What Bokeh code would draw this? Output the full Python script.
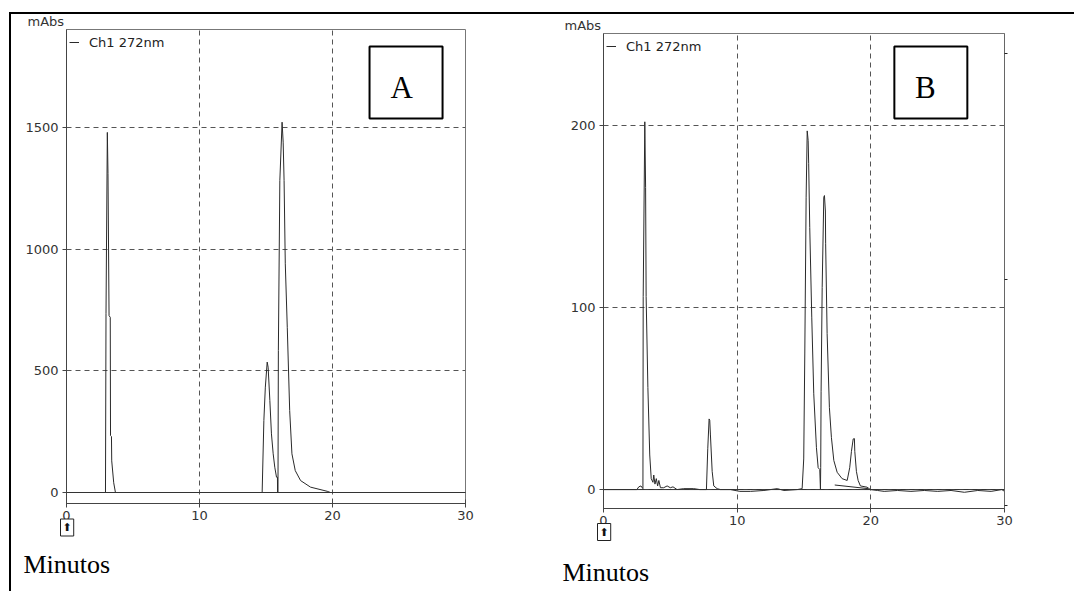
from bokeh.plotting import figure
from bokeh.models import Range1d, FixedTicker, LinearAxis, Span, Label, Legend, LegendItem, Title
from bokeh.layouts import row
from bokeh.embed import file_html
from bokeh.resources import INLINE

# ---------------- data ----------------
channel = "Ch1 272nm"
y_unit = "mAbs"
x_title = "Minutos"
panel_names = ["A", "B"]
origin_icon = "⬆"

x_ticks = [0, 10, 20, 30]
a_y_ticks = [0, 500, 1000, 1500]
b_y_ticks = [0, 100, 200]
b_right_ticks = [0, 50, 100]

# Chromatogram A (minutes, mAbs)
time_a = [0, 2.9, 2.93, 2.97, 3.07, 3.12, 3.2, 3.29, 3.31, 3.38, 3.4, 3.55, 3.68,
          14.71, 14.84, 14.95, 15.09, 15.16, 15.29, 15.41, 15.54, 15.66, 15.79, 15.86, 15.87,
          15.9, 15.93, 16.04, 16.21, 16.29, 16.36, 16.45, 16.6, 16.78, 16.95, 17.2, 17.6,
          18.35, 19.6, 19.85, 30]
signal_a = [0, 0, 0, 735, 1480, 1311, 727, 720, 234, 230, 130, 40, 0,
            0, 296, 433, 536, 515, 378, 241, 159, 104, 63, 63, 0,
            0, 584, 1282, 1522, 1440, 1282, 940, 679, 337, 159, 90, 49,
            22, 5, 0, 0]

# Chromatogram B (minutes, mAbs)
time_b = [0, 2.5, 2.64, 2.8, 2.95, 2.97, 3.09, 3.15, 3.19, 3.32, 3.46, 3.57, 3.7, 3.76,
          3.85, 3.95, 4.05, 4.14, 4.26, 4.5, 4.76, 5.0, 5.2, 5.5, 6.0, 6.75, 7.2, 7.7,
          7.8, 7.9, 7.95, 8.0, 8.13, 8.25, 8.5, 8.75, 9.5, 10.2, 11, 12, 13, 13.5, 14.5,
          14.86, 14.98, 15.06, 15.16, 15.24, 15.31, 15.35, 15.43, 15.58, 15.73, 15.93, 16.06,
          16.18, 16.23, 16.25, 16.28, 16.36, 16.48, 16.53, 16.6, 16.62, 16.73, 16.9, 17.05,
          17.23, 17.48, 17.85, 18.23, 18.42, 18.55, 18.68, 18.77, 18.8, 18.92, 19.05, 19.22,
          19.72, 19.97, 20.5, 21, 22, 23, 24, 25, 26, 27, 28, 29, 29.8, 30]
signal_b = [0, 0, 1.5, 2, 0.5, 106, 202, 166, 106, 56, 19, 6, 4, 8,
            3, 6, 2, 5, 1, 1, 2, 1, 1.5, 0, 0.5, 0.5, 0, 0,
            22.4, 38.8, 38, 30, 10, 2, 0.5, 0, 0, -1, -1, -0.5, 0.5, -0.5, 0,
            0.5, 16.8, 75, 160.6, 197, 191.8, 179, 144, 94.7, 52.6, 23, 12,
            11, 0, 12, 54, 111, 160.6, 161.5, 153, 135, 85.7, 45, 28.7,
            16, 9.5, 6, 5, 12, 21, 27.8, 28, 21, 10, 5, 2,
            1.3, 0, -0.5, -1, -0.5, -1, -0.5, -1, -0.5, -1.5, -0.5, -1, 0, -1]
# integration baseline segment under the last peak of B
b_base_time = [17.3, 19.8]
b_base_signal = [2.5, 0.5]

TICK_FONT = "DejaVu Sans"
GRAY = "#333333"


def make_panel(y_range, y_ticks, frame_w, frame_h, borders, series, extras, margin):
    left, top, right, bottom = borders
    p = figure(x_range=Range1d(0, 30), y_range=y_range, title=None,
               frame_width=frame_w, frame_height=frame_h,
               min_border_left=left, min_border_top=top,
               min_border_right=right, min_border_bottom=bottom,
               output_backend="svg", toolbar_location=None, margin=margin,
               background_fill_color="white", border_fill_alpha=0)
    p.outline_line_color = "#777777"
    p.outline_line_width = 1

    p.xaxis.ticker = FixedTicker(ticks=x_ticks)
    p.yaxis.ticker = FixedTicker(ticks=y_ticks)
    for ax in (p.xaxis[0], p.yaxis[0]):
        ax.axis_line_color = "#444444"
        ax.major_tick_line_color = "#444444"
        ax.minor_tick_line_color = None
        ax.major_label_text_font = TICK_FONT
        ax.major_label_text_font_size = "13px"
        ax.major_label_text_color = GRAY
    p.xaxis.major_tick_in = 4
    p.xaxis.major_tick_out = 4
    p.xaxis.major_label_standoff = 3
    p.yaxis.major_tick_in = 0
    p.yaxis.major_tick_out = 4
    p.yaxis.major_label_standoff = 4

    p.xgrid.ticker = FixedTicker(ticks=x_ticks)
    p.ygrid.ticker = FixedTicker(ticks=y_ticks)
    for g in (p.xgrid[0], p.ygrid[0]):
        g.grid_line_color = "#555555"
        g.grid_line_dash = "5 4"
        g.grid_line_width = 1

    p.add_layout(Span(location=0, dimension="width", line_color=GRAY, line_width=1))

    renderers = []
    for xs, ys in series:
        renderers.append(p.line(xs, ys, line_color="#2a2a2a", line_width=1))

    legend = Legend(items=[LegendItem(label=channel, renderers=[renderers[0]])],
                    location="top_left", margin=3, padding=0, spacing=0,
                    glyph_width=10, glyph_height=20, label_height=20,
                    label_standoff=10, border_line_color=None,
                    background_fill_alpha=0,
                    label_text_font=TICK_FONT, label_text_font_size="13px",
                    label_text_color="#222222")
    p.add_layout(legend)

    (unit_offset, title_offset, title_standoff, icon_standoff, box, letter_xy, name) = extras
    p.add_layout(Title(text=y_unit, align="left", offset=unit_offset, standoff=1,
                       vertical_align="bottom", text_font=TICK_FONT,
                       text_font_size="13px", text_font_style="normal",
                       text_color=GRAY), "above")
    p.add_layout(Title(text=origin_icon, align="left", offset=-6,
                       standoff=icon_standoff, vertical_align="bottom", text_font=TICK_FONT,
                       text_font_size="11px", text_font_style="normal",
                       text_color="#111111", border_line_color="#222222",
                       background_fill_color="white", padding=2), "below")
    p.add_layout(Title(text=x_title, align="left", offset=title_offset,
                       standoff=title_standoff, text_font="Liberation Serif",
                       text_font_size="26px", text_font_style="normal",
                       text_color="black"), "below")
    bx, by, bw, bh = box
    p.rect(x=[bx], y=[by], width=bw, height=bh, fill_color="white",
           line_color="black", line_width=2)
    p.add_layout(Label(x=letter_xy[0], y=letter_xy[1], text=name,
                       text_font="Liberation Serif", text_font_size="31px",
                       text_color="black", text_align="center", text_baseline="alphabetic"))
    return p


pA = make_panel(Range1d(-45.2, 1903), a_y_ticks, 399, 474, (55, 15, 65, 60),
                [(time_a, signal_a)],
                (-39, -43, 50, -27, (25.53, 1685, 5.49, 296), (25.2, 1666), panel_names[0]),
                (-4, 0, 0, 0))

pB = make_panel(Range1d(-10.4, 250.5), b_y_ticks, 401, 475, (73, 19, 70, 60),
                [(time_b, signal_b), (b_base_time, b_base_signal)],
                (-39, -41, 57, -26, (24.49, 223.6, 5.46, 39.6), (24.08, 221), panel_names[1]),
                (0, 0, 0, 0))

pB.extra_y_ranges = {"r": Range1d(-0.66, 104.4)}
right_axis = LinearAxis(y_range_name="r", ticker=FixedTicker(ticks=b_right_ticks),
                        major_label_text_font_size="0px", major_label_text_color=None,
                        major_tick_out=3, major_tick_in=0, major_tick_line_color="#222222",
                        minor_tick_line_color=None, axis_line_color="#666666")
pB.add_layout(right_axis, "right")

layout = row(pA, pB, spacing=0, margin=(12, 0, 0, 9),
             styles={"border-top": "2px solid black", "border-left": "2px solid black"})

open("out.html", "w").write(file_html(layout, INLINE))
